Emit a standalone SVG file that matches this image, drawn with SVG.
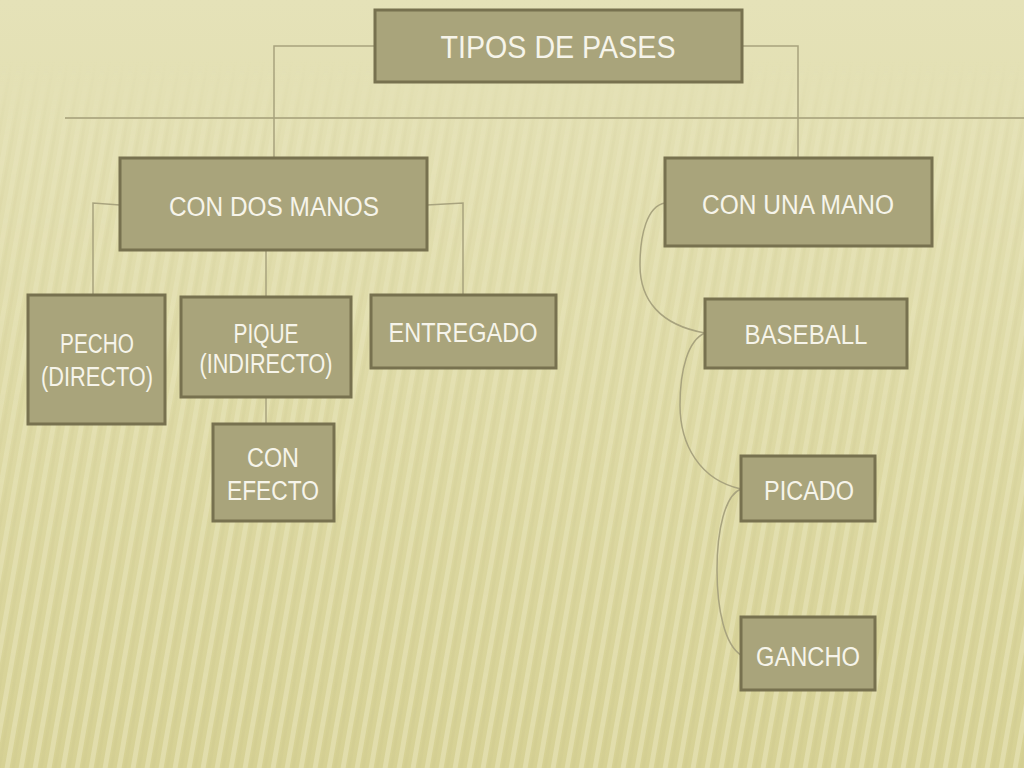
<svg xmlns="http://www.w3.org/2000/svg" width="1024" height="768" viewBox="0 0 1024 768">
<defs>
<linearGradient id="bg" x1="0" y1="0" x2="0" y2="1">
<stop offset="0" stop-color="#e5e2b8"/>
<stop offset="0.5" stop-color="#dedaa6"/>
<stop offset="1" stop-color="#d6d194"/>
</linearGradient>
<pattern id="stripes" width="14" height="14" patternUnits="userSpaceOnUse" patternTransform="skewX(-10)">
<rect x="0" y="0" width="5" height="14" fill="#f3f0cf" opacity="0.4"/>
<rect x="7" y="0" width="3" height="14" fill="#c9c48a" opacity="0.2"/>
</pattern>
<linearGradient id="fade" x1="0" y1="0" x2="0" y2="1">
<stop offset="0" stop-color="#fff" stop-opacity="0"/>
<stop offset="0.12" stop-color="#fff" stop-opacity="0.5"/>
<stop offset="1" stop-color="#fff" stop-opacity="1"/>
</linearGradient>
<mask id="m"><rect x="0" y="60" width="1024" height="708" fill="url(#fade)"/></mask>
<style>
.box{fill:#a9a47b;stroke:#77714f;stroke-width:3}
.t{fill:#f6f4ea;font-family:"Liberation Sans",Arial,sans-serif;text-anchor:middle;font-size:27px}
.c{fill:none;stroke:#a8a37e;stroke-width:1.5}
</style>
</defs>
<rect width="1024" height="768" fill="url(#bg)"/>
<rect width="1024" height="768" fill="url(#stripes)" mask="url(#m)"/>
<line x1="65" y1="118" x2="1024" y2="118" stroke="#b3ae86" stroke-width="2"/>

<g id="connectors">
<polyline class="c" points="375,46 274,46 274,158"/>
<polyline class="c" points="742,46 798,46 798,158"/>
<polyline class="c" points="120,205 93,203 93,295"/>
<polyline class="c" points="427,205 463,203 463,295"/>
<line class="c" x1="266" y1="250" x2="266" y2="297"/>
<line class="c" x1="266" y1="397" x2="266" y2="424"/>
<path class="c" d="M665,203 C647,206 640,235 640,265 C640,300 660,325 705,333"/>
<path class="c" d="M705,333 C688,340 680,370 680,405 C680,445 700,480 741,489"/>
<path class="c" d="M741,489 C725,495 717,530 717,570 C717,610 725,645 741,655"/>
</g>

<g id="n-tipos"><rect class="box" x="375" y="10" width="367" height="72"/><text class="t" x="558" y="58" style="font-size:31px" textLength="235" lengthAdjust="spacingAndGlyphs">TIPOS DE PASES</text></g>
<g id="n-dos"><rect class="box" x="120" y="158" width="307" height="92"/><text class="t" x="274" y="216" textLength="210" lengthAdjust="spacingAndGlyphs">CON DOS MANOS</text></g>
<g id="n-una"><rect class="box" x="665" y="158" width="267" height="88"/><text class="t" x="798" y="214" textLength="192" lengthAdjust="spacingAndGlyphs">CON UNA MANO</text></g>
<g id="n-pecho"><rect class="box" x="28" y="295" width="137" height="129"/><text class="t" x="97" y="353" textLength="74" lengthAdjust="spacingAndGlyphs">PECHO</text><text class="t" x="97" y="386" textLength="112" lengthAdjust="spacingAndGlyphs">(DIRECTO)</text></g>
<g id="n-pique"><rect class="box" x="181" y="297" width="170" height="100"/><text class="t" x="266" y="343" textLength="65" lengthAdjust="spacingAndGlyphs">PIQUE</text><text class="t" x="266" y="373" textLength="133" lengthAdjust="spacingAndGlyphs">(INDIRECTO)</text></g>
<g id="n-entregado"><rect class="box" x="371" y="295" width="185" height="73"/><text class="t" x="463" y="342" textLength="149" lengthAdjust="spacingAndGlyphs">ENTREGADO</text></g>
<g id="n-efecto"><rect class="box" x="213" y="424" width="121" height="97"/><text class="t" x="273" y="467" textLength="52" lengthAdjust="spacingAndGlyphs">CON</text><text class="t" x="273" y="500" textLength="92" lengthAdjust="spacingAndGlyphs">EFECTO</text></g>
<g id="n-baseball"><rect class="box" x="705" y="299" width="202" height="69"/><text class="t" x="806" y="344" textLength="123" lengthAdjust="spacingAndGlyphs">BASEBALL</text></g>
<g id="n-picado"><rect class="box" x="741" y="456" width="134" height="65"/><text class="t" x="809" y="500" textLength="90" lengthAdjust="spacingAndGlyphs">PICADO</text></g>
<g id="n-gancho"><rect class="box" x="741" y="617" width="134" height="73"/><text class="t" x="808" y="666" textLength="104" lengthAdjust="spacingAndGlyphs">GANCHO</text></g>
</svg>
